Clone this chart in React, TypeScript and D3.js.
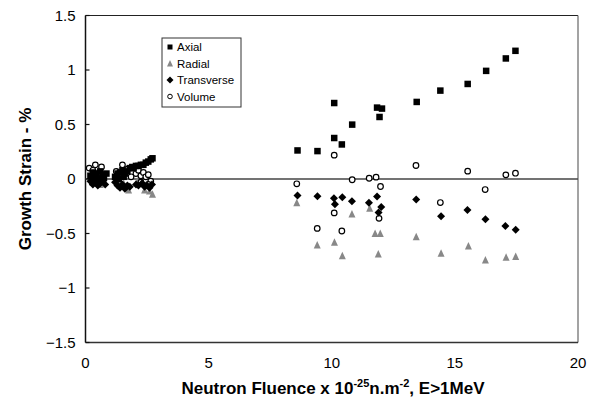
import React from "react";
import * as d3 from "d3";

type P = [number, number];

const axial: P[] = [
  [0.2, 0.03], [0.3, 0.06], [0.35, -0.02], [0.45, 0.05], [0.5, 0.0], [0.6, 0.07], [0.7, 0.04], [0.75, 0.01], [0.85, 0.05], [0.4, 0.02], [0.65, -0.01],
  [1.2, 0.02], [1.3, 0.05], [1.4, 0.06], [1.5, 0.08], [1.6, 0.05], [1.7, 0.07], [1.8, 0.1], [1.9, 0.11], [1.35, 0.0], [1.55, 0.02],
  [1.95, 0.1], [2.05, 0.12], [2.15, 0.12], [2.25, 0.13], [2.35, 0.13], [2.45, 0.15], [2.55, 0.16], [2.65, 0.18], [2.72, 0.19],
  [8.61, 0.262], [9.42, 0.256], [10.1, 0.697], [10.1, 0.376], [10.41, 0.317], [10.83, 0.499],
  [11.84, 0.655], [12.04, 0.646], [11.94, 0.569],
  [13.45, 0.707], [14.41, 0.811], [15.52, 0.872], [16.27, 0.992], [17.07, 1.106], [17.46, 1.176],
];

const radial: P[] = [
  [0.3, -0.03], [0.6, -0.05],
  [1.35, -0.02], [1.55, -0.04], [1.75, -0.1],
  [2.1, -0.02], [2.4, -0.1], [2.6, -0.11], [2.72, -0.14],
  [8.58, -0.219], [9.41, -0.605], [10.11, -0.581], [10.43, -0.704], [10.82, -0.32], [11.54, -0.268],
  [11.76, -0.501], [11.97, -0.501], [11.89, -0.688],
  [13.43, -0.529], [14.44, -0.682], [15.55, -0.615], [16.24, -0.743], [17.08, -0.719], [17.47, -0.71],
];

const transverse: P[] = [
  [0.2, -0.02], [0.3, -0.05], [0.4, -0.03], [0.5, -0.06], [0.6, -0.04], [0.7, -0.02], [0.8, -0.05],
  [1.2, -0.03], [1.3, -0.06], [1.4, -0.08], [1.5, -0.05], [1.6, -0.09], [1.7, -0.06], [1.8, -0.07],
  [2.05, -0.05], [2.15, -0.06], [2.3, -0.04], [2.4, -0.07], [2.5, -0.06], [2.6, -0.08], [2.7, -0.05],
  [8.61, -0.152], [9.42, -0.158], [10.09, -0.176], [10.13, -0.232], [10.43, -0.167], [10.82, -0.204],
  [11.51, -0.219], [11.84, -0.161], [12.01, -0.256], [11.9, -0.308],
  [13.43, -0.189], [14.44, -0.342], [15.51, -0.284], [16.24, -0.37], [17.05, -0.431], [17.47, -0.465],
];

const volume: P[] = [
  [0.15, 0.1], [0.4, 0.13], [0.65, 0.11], [0.5, 0.05], [0.3, 0.08],
  [1.5, 0.13], [1.25, 0.07], [1.7, 0.09], [1.85, 0.02],
  [2.05, 0.05], [2.15, 0.08], [2.25, 0.03], [2.35, 0.06], [2.45, 0.02], [2.55, 0.04], [2.65, -0.02], [2.25, -0.03], [2.55, -0.05],
  [8.58, -0.044], [9.41, -0.453], [10.1, 0.219], [10.1, -0.311], [10.41, -0.477], [10.83, -0.007],
  [11.52, 0.007], [11.8, 0.017], [11.98, -0.069], [11.92, -0.361],
  [13.42, 0.124], [14.41, -0.216], [15.52, 0.072], [16.23, -0.097], [17.07, 0.038], [17.46, 0.053],
];

const xTicks = [0, 5, 10, 15, 20];
const yTicks = [-1.5, -1, -0.5, 0, 0.5, 1, 1.5];
const legendLabels = ["Axial", "Radial", "Transverse", "Volume"];

const W = 599, H = 408;
const L = 85.5, R = 578, T = 15.5, B = 342.5;
const font = "Liberation Sans, Arial, Helvetica, sans-serif";

const x = d3.scaleLinear().domain([0, 20]).range([L, R]);
const y = d3.scaleLinear().domain([-1.5, 1.5]).range([B, T]);

const sq = (cx: number, cy: number, s = 6.5) => (
  <rect x={cx - s / 2} y={cy - s / 2} width={s} height={s} fill="#000" />
);
const tri = (cx: number, cy: number, s = 7) => (
  <path d={`M${cx},${cy - s / 2 - 0.5} L${cx + s / 2},${cy + s / 2} L${cx - s / 2},${cy + s / 2} Z`} fill="#888" />
);
const dia = (cx: number, cy: number, s = 4) => (
  <path d={`M${cx},${cy - s} L${cx + s},${cy} L${cx},${cy + s} L${cx - s},${cy} Z`} fill="#000" />
);
const circ = (cx: number, cy: number) => (
  <circle cx={cx} cy={cy} r={2.8} fill="#fff" stroke="#000" strokeWidth={1.2} />
);

export default function App() {
  return (
    <svg width={W} height={H} style={{ position: "absolute", left: 0, top: 0, background: "#fff" }}>
      <rect x={0} y={0} width={W} height={H} fill="#fff" />
      <line x1={L} y1={T} x2={R} y2={T} stroke="#222" strokeWidth={1.2} />
      <line x1={R} y1={T} x2={R} y2={B} stroke="#666" strokeWidth={1.2} />
      <line x1={L} y1={B} x2={R} y2={B} stroke="#333" strokeWidth={1.5} />
      <line x1={L} y1={T} x2={L} y2={B} stroke="#111" strokeWidth={1.5} />
      <line x1={L} y1={y(0)} x2={R} y2={y(0)} stroke="#444" strokeWidth={1.5} />
      {yTicks.map((t) => (
        <g key={t}>
          <line x1={L} x2={L + 4} y1={y(t)} y2={y(t)} stroke="#111" strokeWidth={1.2} />
          <text x={L - 10} y={y(t)} dy="0.35em" textAnchor="end" fontFamily={font} fontSize={15}>
            {d3.format("")(t)}
          </text>
        </g>
      ))}
      {xTicks.map((t) => (
        <text key={t} x={x(t)} y={B + 25} textAnchor="middle" fontFamily={font} fontSize={15}>
          {t}
        </text>
      ))}
      {radial.map((p, i) => <g key={"r" + i}>{tri(x(p[0]), y(p[1]))}</g>)}
      {volume.map((p, i) => <g key={"v" + i}>{circ(x(p[0]), y(p[1]))}</g>)}
      {transverse.map((p, i) => <g key={"t" + i}>{dia(x(p[0]), y(p[1]))}</g>)}
      {axial.map((p, i) => <g key={"a" + i}>{sq(x(p[0]), y(p[1]))}</g>)}
      <rect x={162} y={38} width={79} height={69} fill="#fff" stroke="#333" strokeWidth={1} />
      {legendLabels.map((lab, i) => {
        const cy = 47 + i * 16.5;
        const cx = 170;
        return (
          <g key={lab}>
            {i === 0 && sq(cx, cy, 5)}
            {i === 1 && tri(cx, cy, 6)}
            {i === 2 && dia(cx, cy, 3.5)}
            {i === 3 && <circle cx={cx} cy={cy} r={2.3} fill="#fff" stroke="#000" strokeWidth={1} />}
            <text x={177} y={cy} dy="0.35em" fontFamily={font} fontSize={11.5}>
              {lab}
            </text>
          </g>
        );
      })}
      <text
        transform={`translate(31,${(T + B) / 2}) rotate(-90)`}
        textAnchor="middle"
        fontFamily={font}
        fontSize={17}
        fontWeight="bold"
      >
        Growth Strain - %
      </text>
      <text x={333} y={394} textAnchor="middle" fontFamily={font} fontSize={17} fontWeight="bold">
        Neutron Fluence x 10
        <tspan dy={-7} fontSize={11}>-25</tspan>
        <tspan dy={7}>n.m</tspan>
        <tspan dy={-7} fontSize={11}>-2</tspan>
        <tspan dy={7}>, E&gt;1MeV</tspan>
      </text>
    </svg>
  );
}
